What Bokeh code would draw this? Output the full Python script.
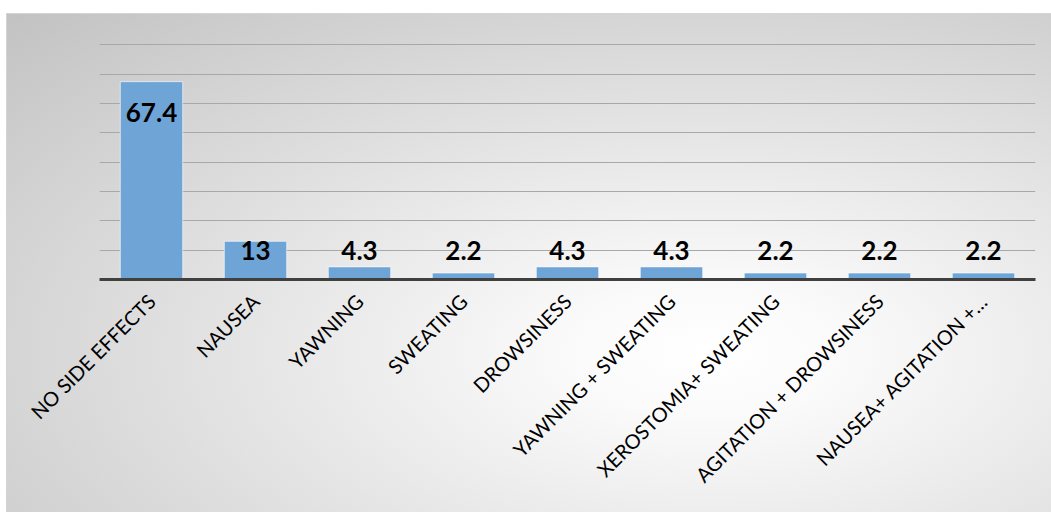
import math
from bokeh.plotting import figure
from bokeh.models import ColumnDataSource, FixedTicker, Range1d
from bokeh.core.properties import value
from bokeh.embed import file_html
from bokeh.resources import INLINE

categories = ["NO SIDE EFFECTS", "NAUSEA", "YAWNING", "SWEATING", "DROWSINESS",
              "YAWNING + SWEATING", "XEROSTOMIA+ SWEATING", "AGITATION + DROWSINESS",
              "NAUSEA+ AGITATION +\u2026"]
values = [67.4, 13, 4.3, 2.2, 4.3, 4.3, 2.2, 2.2, 2.2]
grid_ticks = [10, 20, 30, 40, 50, 60, 70, 80]

label_y = [max(v - 10.6, 9.8) for v in values]
labels = [("%g" % v) for v in values]

src = ColumnDataSource(dict(cat=categories, val=values, ly=label_y, lab=labels))

p = figure(x_range=categories, y_range=Range1d(0, 80.4), width=1044, height=498,
           output_backend="svg", toolbar_location=None, y_axis_location=None,
           min_border_left=92, min_border_right=16, min_border_top=29,
           min_border_bottom=233)
p.margin = (14, 0, 0, 7)
p.background_fill_alpha = 0
p.border_fill_alpha = 0
p.outline_line_color = None
p.styles = {
    "background": "radial-gradient(ellipse farthest-corner at 67% 68%, #ffffff 0%, #fafafa 14%, #c2c2c2 100%)",
    "box-shadow": "0 0 0 1px #d4d4d4",
}

p.ygrid.ticker = FixedTicker(ticks=grid_ticks)
p.ygrid.grid_line_color = "#a8a8a8"
p.ygrid.grid_line_width = 1.2
p.xgrid.grid_line_color = None

p.vbar(x="cat", top="val", width=0.6, source=src, fill_color="#6fa4d7",
       line_color="#ffffff", line_alpha=0.6, line_width=1)

p.text(x="cat", y="ly", text="lab", source=src, text_align="center",
       text_baseline="middle", text_font=value("Lato"), text_font_style="bold",
       text_font_size="26px", text_color="#000000")

xa = p.xaxis[0]
xa.axis_line_color = "#404040"
xa.axis_line_width = 3
xa.major_tick_line_color = None
xa.minor_tick_line_color = None
xa.major_label_orientation = math.pi / 4
xa.major_label_text_font = "Lato"
xa.major_label_text_font_size = "20px"
xa.major_label_text_color = "#000000"
xa.major_label_standoff = 12

open("out.html", "w").write(file_html(p, INLINE))
